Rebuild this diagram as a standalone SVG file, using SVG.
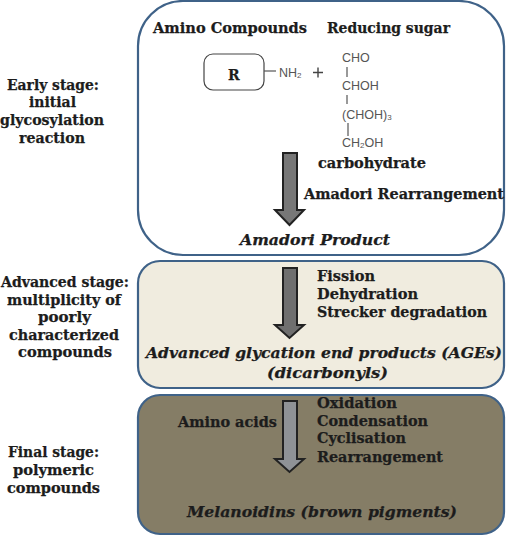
<svg xmlns="http://www.w3.org/2000/svg" width="512" height="537" viewBox="0 0 512 537">
<style>
.b{font-family:"DejaVu Serif","Liberation Serif",serif;font-weight:bold;font-size:14px;fill:#1c1c1c;stroke:#1c1c1c;stroke-width:.25}
.i{font-style:italic}
.c{font-family:"Liberation Sans",Arial,sans-serif;font-size:12.5px;fill:#555}
.s{font-size:8px}
.box{stroke:#3f6288;stroke-width:2.2}
.arr{stroke:#222;stroke-width:2}
.ln{stroke:#555;stroke-width:1.2;fill:none}
</style>
<rect width="512" height="537" fill="#fff"/>
<g id="early-label">
<text class="b" x="7" y="90" textLength="92" lengthAdjust="spacingAndGlyphs">Early stage:</text>
<text class="b" x="29" y="107" textLength="47" lengthAdjust="spacingAndGlyphs">initial</text>
<text class="b" x="0" y="125" textLength="104" lengthAdjust="spacingAndGlyphs">glycosylation</text>
<text class="b" x="19" y="143" textLength="66" lengthAdjust="spacingAndGlyphs">reaction</text>
</g>
<g id="advanced-label">
<text class="b" x="1" y="287" textLength="128" lengthAdjust="spacingAndGlyphs">Advanced stage:</text>
<text class="b" x="7" y="305" textLength="114" lengthAdjust="spacingAndGlyphs">multiplicity of</text>
<text class="b" x="38" y="322" textLength="53" lengthAdjust="spacingAndGlyphs">poorly</text>
<text class="b" x="9" y="340" textLength="110" lengthAdjust="spacingAndGlyphs">characterized</text>
<text class="b" x="18" y="357" textLength="94" lengthAdjust="spacingAndGlyphs">compounds</text>
</g>
<g id="final-label">
<text class="b" x="8" y="457" textLength="91" lengthAdjust="spacingAndGlyphs">Final stage:</text>
<text class="b" x="13" y="475" textLength="81" lengthAdjust="spacingAndGlyphs">polymeric</text>
<text class="b" x="7" y="493" textLength="93" lengthAdjust="spacingAndGlyphs">compounds</text>
</g>
<g id="early-box">
<rect class="box" x="138" y="1" width="366" height="254" rx="45" fill="#fff"/>
<text class="b" x="153" y="33" textLength="154" lengthAdjust="spacingAndGlyphs">Amino Compounds</text>
<text class="b" x="327" y="33" textLength="123" lengthAdjust="spacingAndGlyphs">Reducing sugar</text>
<text class="b" x="318" y="168" textLength="108" lengthAdjust="spacingAndGlyphs">carbohydrate</text>
<text class="b" x="304" y="199" textLength="200" lengthAdjust="spacingAndGlyphs">Amadori Rearrangement</text>
<text class="b i" x="240" y="245" textLength="150" lengthAdjust="spacingAndGlyphs">Amadori Product</text>
</g>
<g id="r-group">
<rect x="204" y="54" width="60" height="36" rx="9" fill="#fff" stroke="#444" stroke-width="1.2"/>
<text class="b" x="228" y="80">R</text>
<path class="ln" d="M264 71H276"/>
<text class="c" x="279" y="77">NH<tspan class="s" dy="1">2</tspan></text>
<path d="M313 72.500H323M318 67.500V77.500" stroke="#444" stroke-width="1.400" fill="none"/>
</g>
<g id="sugar">
<text class="c" x="342" y="62">CHO</text>
<path class="ln" d="M347 67V77"/>
<text class="c" x="342" y="90">CHOH</text>
<path class="ln" d="M347 95V104"/>
<text class="c" x="342" y="119">(CHOH)<tspan class="s" dy="1">3</tspan></text>
<path class="ln" d="M348 123V136"/>
<text class="c" x="342" y="147">CH<tspan class="s" dy="1">2</tspan><tspan dy="-1">OH</tspan></text>
</g>
<g id="advanced-box">
<rect class="box" x="138" y="261" width="366" height="127" rx="22" fill="#f0ecdf"/>
<text class="b" x="317" y="281" textLength="58" lengthAdjust="spacingAndGlyphs">Fission</text>
<text class="b" x="317" y="299" textLength="101" lengthAdjust="spacingAndGlyphs">Dehydration</text>
<text class="b" x="317" y="317" textLength="170" lengthAdjust="spacingAndGlyphs">Strecker degradation</text>
<text class="b i" x="146" y="358" textLength="356" lengthAdjust="spacingAndGlyphs">Advanced glycation end products (AGEs)</text>
<text class="b i" x="267" y="378" textLength="121" lengthAdjust="spacingAndGlyphs">(dicarbonyls)</text>
</g>
<g id="final-box">
<rect class="box" x="138" y="395" width="366" height="139" rx="22" fill="#857d66"/>
<text class="b" x="178" y="427" textLength="99" lengthAdjust="spacingAndGlyphs">Amino acids</text>
<text class="b" x="317" y="408" textLength="80" lengthAdjust="spacingAndGlyphs">Oxidation</text>
<text class="b" x="317" y="426" textLength="111" lengthAdjust="spacingAndGlyphs">Condensation</text>
<text class="b" x="317" y="443" textLength="89" lengthAdjust="spacingAndGlyphs">Cyclisation</text>
<text class="b" x="317" y="462" textLength="126" lengthAdjust="spacingAndGlyphs">Rearrangement</text>
<text class="b i" x="187" y="517" textLength="270" lengthAdjust="spacingAndGlyphs">Melanoidins (brown pigments)</text>
</g>
<g id="connectors">
<path class="arr" fill="#777" d="M283 153H297V210H304L289.500 225L275 210H283Z"/>
<path class="arr" fill="#6f6f6f" d="M283 268H297V325H304L289.500 338L275 325H283Z"/>
<path class="arr" fill="#8f9296" d="M283 401H297V459H304L289.500 472L275 459H283Z"/>
</g>
</svg>
